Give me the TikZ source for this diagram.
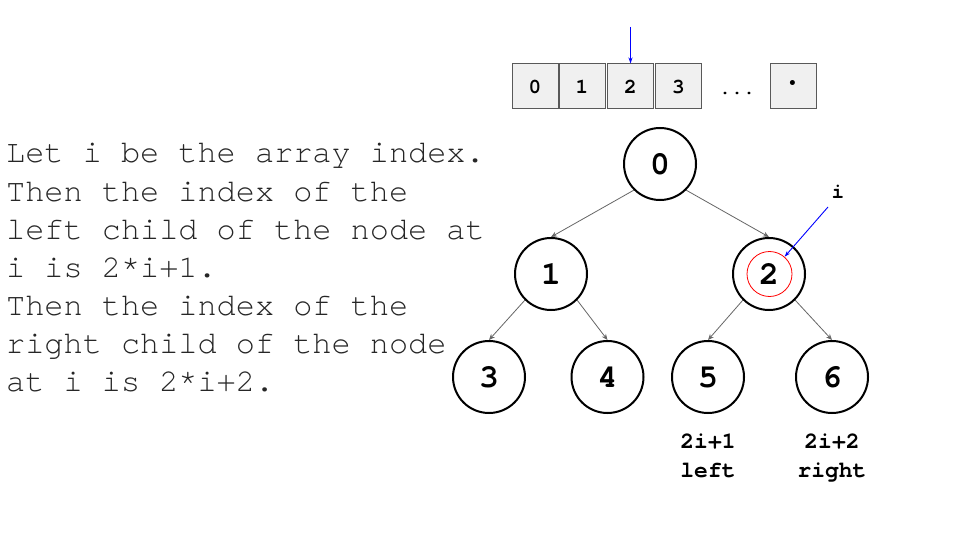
\documentclass[tikz,border=0pt]{standalone}
\usepackage{fontspec}
\setmonofont{TeX Gyre Cursor}
\usetikzlibrary{arrows.meta}
\begin{document}
\begin{tikzpicture}[x=1pt,y=-1pt,
 tnode/.style={circle, draw=black, line width=2pt, minimum size=72pt, inner sep=0pt, font=\ttfamily\bfseries\fontsize{33}{40}\selectfont},
 cell/.style={draw=black!65, fill=black!6, line width=1pt, minimum width=46pt, minimum height=45pt, inner sep=0pt, font=\ttfamily\bfseries\fontsize{21}{24}\selectfont},
 link/.style={draw=black!60, line width=0.8pt, -{Stealth[length=6pt,width=5pt]}},
 bluelink/.style={draw=blue, line width=0.9pt, -{Stealth[length=6pt,width=4pt]}},
 txt/.style={anchor=base west, inner sep=0pt, font=\ttfamily\fontsize{31.9}{38}\selectfont, text=black!85},
 lab/.style={anchor=base, inner sep=0pt, font=\ttfamily\bfseries\fontsize{23}{26}\selectfont}
]
\useasboundingbox (0,0) rectangle (960,540);
\fill[white] (0,0) rectangle (960,540);

% left text
\node[txt] (t1) at (6,163) {Let i be the array index.};
\node[txt] (t2) at (6,201) {Then the index of the};
\node[txt] (t3) at (6,239) {left child of the node at};
\node[txt] (t4) at (6,277) {i is 2*i+1.};
\node[txt] (t5) at (6,315) {Then the index of the};
\node[txt] (t6) at (6,353) {right child of the node};
\node[txt] (t7) at (6,391) {at i is 2*i+2.};

% array
\node[cell] (c0) at (535,86.5) {0};
\node[cell] (c1) at (582,86.5) {1};
\node[cell] (c2) at (630.5,86.5) {2};
\node[cell] (c3) at (678.5,86.5) {3};
\node[cell] (cl) at (793,86.5) {\raisebox{-2pt}{\fontsize{38}{38}\selectfont ·}};
\node[anchor=base, inner sep=0pt, font=\ttfamily\fontsize{20}{24}\selectfont] (dots) at (737,95) {...};
\coordinate (pa) at (630.5,27);
\draw[bluelink] (pa) -- (c2.north);

% tree
\node[tnode] (n0) at (660,164) {0};
\node[tnode] (n1) at (551,274) {1};
\node[tnode] (n2) at (769,274) {2};
\node[tnode] (n3) at (489,377) {3};
\node[tnode] (n4) at (607.5,377) {4};
\node[tnode] (n5) at (708,377) {5};
\node[tnode] (n6) at (832,377) {6};
\node[circle, draw=red, line width=0.8pt, minimum size=45pt, inner sep=0pt] (rc) at (769.5,274) {};

\draw[link] (n0.225) -- (n1.north);
\draw[link] (n0.-45) -- (n2.north);
\draw[link] (n1.225) -- (n3.north);
\draw[link] (n1.-45) -- (n4.north);
\draw[link] (n2.225) -- (n5.north);
\draw[link] (n2.-45) -- (n6.north);

% pointer i
\node[lab, font=\ttfamily\bfseries\fontsize{21}{24}\selectfont] (li) at (838,198) {i};
\coordinate (pi) at (828,207);
\draw[bluelink] (pi) -- (rc);

% labels
\node[lab] (l1a) at (708,448) {2i+1};
\node[lab] (l1b) at (708,477) {left};
\node[lab] (l2a) at (832,448) {2i+2};
\node[lab] (l2b) at (832,477) {right};
\end{tikzpicture}
\end{document}
